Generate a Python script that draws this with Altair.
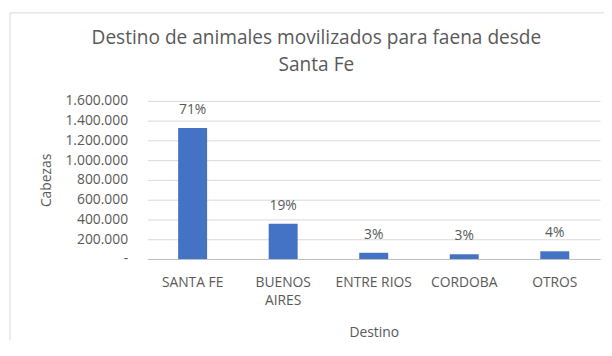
import altair as alt
import pandas as pd

destinos = ["SANTA FE", "BUENOS AIRES", "ENTRE RIOS", "CORDOBA", "OTROS"]
cabezas = [1325000, 357000, 63000, 48000, 78000]
porcentajes = ["71%", "19%", "3%", "3%", "4%"]
y_ticks = [0, 200000, 400000, 600000, 800000, 1000000, 1200000, 1400000, 1600000]

df = pd.DataFrame({"Destino": destinos, "Cabezas": cabezas, "Pct": porcentajes})

FONT = "Open Sans"
GRAY = "#595959"

x_enc = alt.X(
    "Destino:N",
    sort=destinos,
    scale=alt.Scale(paddingInner=0.68, paddingOuter=0.34),
    axis=alt.Axis(
        title="Destino",
        labelAngle=0,
        labelExpr="datum.label == 'BUENOS AIRES' ? ['BUENOS', 'AIRES'] : datum.label",
        labelLineHeight=18,
        labelPadding=17,
        titlePadding=18,
        ticks=False,
        domainColor="#bfbfbf",
    ),
)
y_enc = alt.Y(
    "Cabezas:Q",
    scale=alt.Scale(domain=[0, 1600000], nice=False),
    axis=alt.Axis(
        title="Cabezas",
        values=y_ticks,
        labelExpr="datum.value == 0 ? '-' : replace(format(datum.value, ','), regexp(',', 'g'), '.')",
        labelOverlap=False,
        labelFontSize=14,
        ticks=False,
        domain=False,
        gridColor="#d9d9d9",
        labelPadding=20,
        titlePadding=12,
    ),
)

base = alt.Chart(df).encode(x=x_enc, y=y_enc)

bars = base.mark_bar(color="#4472C4")

labels = base.mark_text(baseline="bottom", dy=-11, fontSize=14, color=GRAY, font=FONT).encode(
    text="Pct:N",
)

border = alt.Chart(pd.DataFrame({"a": [0]})).mark_rect(
    fill=None, stroke="#d9d9d9", strokeWidth=1
).encode(
    x=alt.value(-139), x2=alt.value(480), y=alt.value(-89), y2=alt.value(260)
)

chart = (
    alt.layer(border, bars, labels)
    .properties(
        width=458,
        height=160,
        autosize=alt.AutoSizeParams(type="none"),
        padding={"left": 141, "top": 92, "right": 4, "bottom": 80},
        title=alt.TitleParams(
            text=["Destino de animales movilizados para faena desde", "Santa Fe"],
            fontSize=19.3,
            fontWeight="normal",
            color=GRAY,
            font=FONT,
            lineHeight=28,
            anchor="middle",
            dx=-58,
            offset=-64,
        ),
    )
    .configure_view(stroke=None)
    .configure_axis(
        labelFont=FONT,
        titleFont=FONT,
        labelFontSize=14,
        titleFontSize=14,
        labelColor=GRAY,
        titleColor=GRAY,
        titleFontWeight="normal",
    )
)

chart.save("out.html", embed_options={"renderer": "svg", "actions": False})
